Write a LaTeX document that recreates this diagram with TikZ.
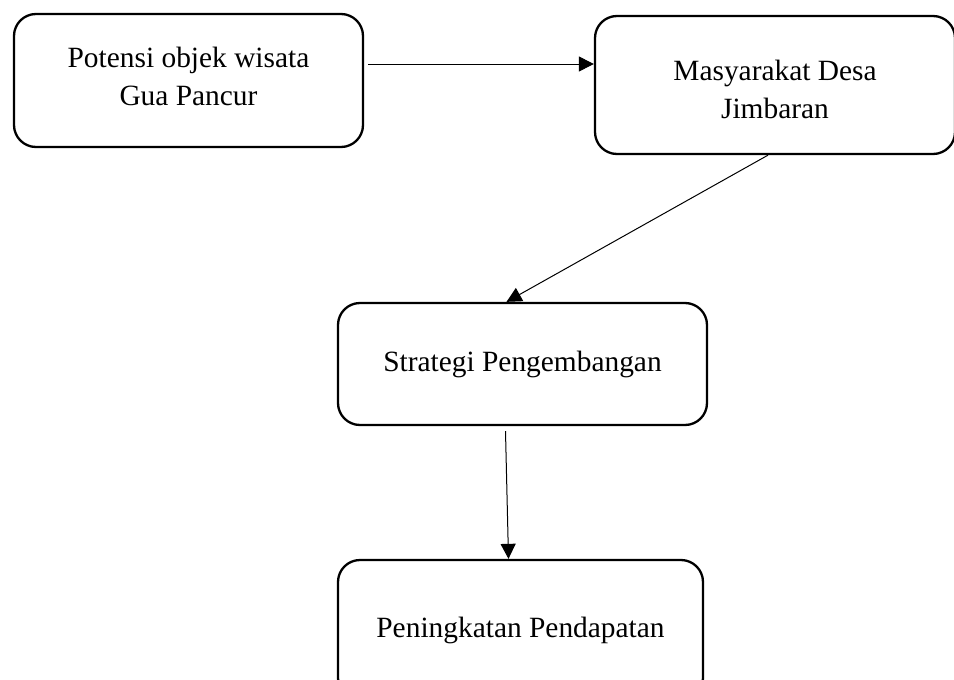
\documentclass[tikz,border=0pt]{standalone}
\usepackage{fontspec}
\setmainfont{Liberation Serif}
\usetikzlibrary{arrows.meta,positioning}

\begin{document}
\begin{tikzpicture}[
  x=1pt, y=-1pt,
  box/.style={draw, line width=2.3pt, rounded corners=22pt, align=center, inner sep=0pt, font=\fontsize{29.4}{38}\selectfont},
  arrow/.style={-{Triangle[length=15pt, width=15pt]}, line width=1pt}
]
\clip (0,0) rectangle (954,680);
\node[box, minimum width=349pt, minimum height=133pt, text depth=9pt] (potensi) at (188.5,80.5) {Potensi objek wisata\\Gua Pancur};
\node[box, minimum width=360pt, minimum height=138pt, text height=68pt] (masyarakat) at (775,85) {Masyarakat Desa\\Jimbaran};
\node[box, minimum width=369pt, minimum height=122pt] (strategi) at (522.5,364) {Strategi Pengembangan};
\node[box, minimum width=365pt, minimum height=140pt] (peningkatan) at (520.5,630) {Peningkatan Pendapatan};

\draw[arrow] ([xshift=4pt,yshift=16.5pt]potensi.east) -- ([yshift=21pt]masyarakat.west);
\draw[arrow] ([xshift=-7pt]masyarakat.south) -- ([xshift=-16pt]strategi.north);
\draw[arrow] ([xshift=-17pt,yshift=-5pt]strategi.south) -- ([xshift=-12pt]peningkatan.north);
\end{tikzpicture}
\end{document}
